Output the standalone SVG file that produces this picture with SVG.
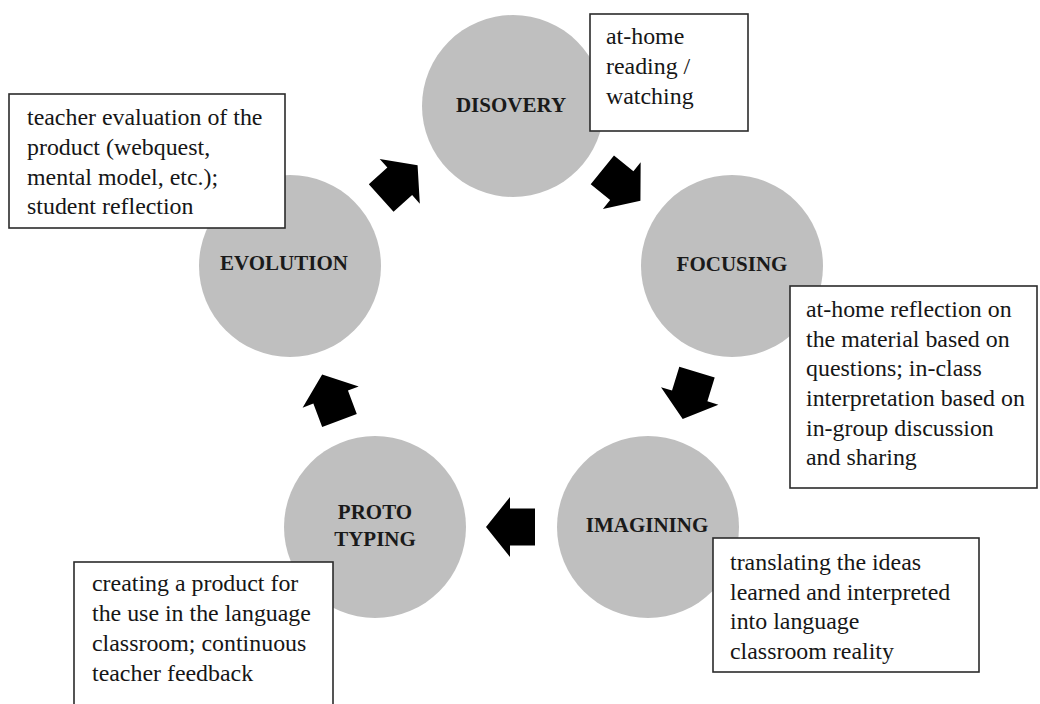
<svg xmlns="http://www.w3.org/2000/svg" width="1040" height="704" viewBox="0 0 1040 704">
  <style>
    .stage { fill: #bfbfbf; }
    .label { font-family: "Liberation Serif", "Times New Roman", serif; font-weight: bold; font-size: 21px; fill: #1a1a1a; text-anchor: middle; }
    .note { fill: #ffffff; stroke: #2b2b2b; stroke-width: 1.6; }
    .note-text { font-family: "Liberation Serif", "Times New Roman", serif; font-size: 23.9px; fill: #161616; }
    .arrow { fill: #000000; }
  </style>
  <defs>
    <!-- block arrow pointing along +x, centred on the origin -->
    <path id="block-arrow" d="M25,0 L1,-30 L1,-18.5 L-24,-18.5 L-24,18.5 L1,18.5 L1,30 Z"/>
  </defs>

  <rect width="1040" height="704" fill="#ffffff"/>

  <!-- cycle arrows between stages -->
  <g id="connectors" class="arrow">
    <use href="#block-arrow" transform="translate(621,185) rotate(39)"/>
    <use href="#block-arrow" transform="translate(690,395) rotate(107)"/>
    <use href="#block-arrow" transform="translate(511,527) rotate(180)"/>
    <use href="#block-arrow" transform="translate(331,398) rotate(-110.7)"/>
    <use href="#block-arrow" transform="translate(399,182) rotate(-42)"/>
  </g>

  <g id="discovery">
    <circle class="stage" cx="513" cy="106" r="91"/>
    <text class="label" x="511" y="112">DISOVERY</text>
    <rect class="note" x="590" y="14" width="158" height="117"/>
    <text class="note-text" x="606" y="44">at-home</text>
    <text class="note-text" x="606" y="74">reading /</text>
    <text class="note-text" x="606" y="104">watching</text>
  </g>

  <g id="focusing">
    <circle class="stage" cx="732" cy="266" r="91"/>
    <text class="label" x="732" y="271">FOCUSING</text>
    <rect class="note" x="790" y="286" width="247" height="202"/>
    <text class="note-text" x="806" y="317">at-home reflection on</text>
    <text class="note-text" x="806" y="347">the material based on</text>
    <text class="note-text" x="806" y="376">questions; in-class</text>
    <text class="note-text" x="806" y="406">interpretation based on</text>
    <text class="note-text" x="806" y="436">in-group discussion</text>
    <text class="note-text" x="806" y="465">and sharing</text>
  </g>

  <g id="imagining">
    <circle class="stage" cx="648" cy="527" r="91"/>
    <text class="label" x="647" y="532">IMAGINING</text>
    <rect class="note" x="713" y="538" width="266" height="134"/>
    <text class="note-text" x="730" y="570">translating the ideas</text>
    <text class="note-text" x="730" y="600">learned and interpreted</text>
    <text class="note-text" x="730" y="629">into language</text>
    <text class="note-text" x="730" y="659">classroom reality</text>
  </g>

  <g id="prototyping">
    <circle class="stage" cx="375" cy="527" r="91"/>
    <text class="label" x="375" y="519">PROTO</text>
    <text class="label" x="375" y="546">TYPING</text>
    <rect class="note" x="74" y="562" width="259" height="150"/>
    <text class="note-text" x="92" y="591">creating a product for</text>
    <text class="note-text" x="92" y="621">the use in the language</text>
    <text class="note-text" x="92" y="651">classroom; continuous</text>
    <text class="note-text" x="92" y="681">teacher feedback</text>
  </g>

  <g id="evolution">
    <circle class="stage" cx="290" cy="266" r="91"/>
    <text class="label" x="284" y="270">EVOLUTION</text>
    <rect class="note" x="9" y="94" width="276" height="134"/>
    <text class="note-text" x="27" y="125">teacher evaluation of the</text>
    <text class="note-text" x="27" y="155">product (webquest,</text>
    <text class="note-text" x="27" y="185">mental model, etc.);</text>
    <text class="note-text" x="27" y="214">student reflection</text>
  </g>
</svg>
